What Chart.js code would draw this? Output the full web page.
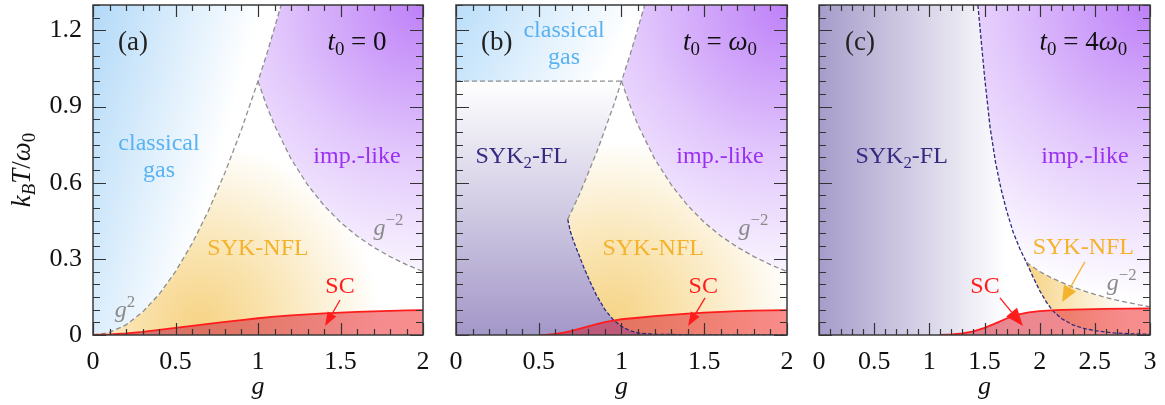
<!DOCTYPE html>
<html><head><meta charset="utf-8">
<script src="https://cdn.jsdelivr.net/npm/chart.js@4.4.1/dist/chart.umd.min.js"></script>
<style>
html,body{margin:0;padding:0;background:#fff;}
#wrap{position:relative;width:1165px;height:405px;overflow:hidden;background:#fff;}
canvas{position:absolute;top:0;}
</style></head><body>
<div id="wrap">
<canvas id="ca" width="440" height="405" style="left:0px"></canvas>
<canvas id="cb" width="360" height="405" style="left:440px"></canvas>
<canvas id="cc" width="365" height="405" style="left:800px"></canvas>
</div>
<script>
// ---------- tick labels ----------
const yMajor = [0, 0.3, 0.6, 0.9, 1.2];
const yLabels = ['0', '0.3', '0.6', '0.9', '1.2'];
const xMajorAB = [0, 0.5, 1, 1.5, 2];
const xLabelsAB = ['0', '0.5', '1', '1.5', '2'];
const xMajorC = [0, 0.5, 1, 1.5, 2, 2.5, 3];
const xLabelsC = ['0', '0.5', '1', '1.5', '2', '2.5', '3'];

// ---------- (a) t0 = 0 : boundaries [g, kT/w0] ----------
const a_g2 = [[0,0],[0.1,0.01],[0.2,0.04],[0.3,0.09],[0.4,0.16],[0.5,0.25],[0.6,0.36],[0.7,0.49],[0.8,0.64],[0.9,0.81],[1,1],[1.05,1.1],[1.1,1.21],[1.14,1.3]];
const a_gm2 = [[1,1],[1.05,0.907],[1.1,0.826],[1.2,0.694],[1.3,0.592],[1.4,0.51],[1.5,0.444],[1.6,0.39],[1.7,0.346],[1.8,0.309],[1.9,0.277],[2,0.25]];
const a_sc = [[0,0],[0.1,0.002],[0.2,0.006],[0.3,0.012],[0.4,0.02],[0.5,0.028],[0.6,0.036],[0.7,0.044],[0.8,0.052],[0.9,0.059],[1,0.066],[1.1,0.072],[1.2,0.077],[1.3,0.081],[1.4,0.085],[1.5,0.088],[1.6,0.091],[1.7,0.093],[1.8,0.095],[1.9,0.097],[2,0.098]];

// ---------- (b) t0 = w0 ----------
const b_top = [[0,1],[1,1]];
const b_g2 = [[0.675,0.456],[0.7,0.49],[0.75,0.56],[0.8,0.64],[0.85,0.72],[0.9,0.81],[0.95,0.9],[1,1],[1.05,1.1],[1.1,1.21],[1.14,1.3]];
const b_gm2 = [[1,1],[1.05,0.907],[1.1,0.826],[1.2,0.694],[1.3,0.592],[1.4,0.51],[1.5,0.444],[1.6,0.39],[1.7,0.346],[1.8,0.309],[1.9,0.277],[2,0.25]];
const b_fl = [[0.675,0.456],[0.69,0.41],[0.71,0.37],[0.74,0.32],[0.77,0.27],[0.81,0.21],[0.85,0.155],[0.9,0.1],[0.95,0.06],[1,0.034],[1.05,0.017],[1.1,0.008],[1.2,0.003],[1.4,0.001],[1.7,0],[2,0]];
const b_sc = [[0.5,0],[0.55,0.001],[0.6,0.004],[0.65,0.009],[0.7,0.016],[0.75,0.025],[0.8,0.034],[0.85,0.043],[0.9,0.051],[0.95,0.057],[1,0.062],[1.1,0.068],[1.2,0.074],[1.3,0.079],[1.4,0.084],[1.5,0.088],[1.6,0.091],[1.7,0.094],[1.8,0.096],[1.9,0.097],[2,0.098]];

// ---------- (c) t0 = 4 w0 ----------
const c_fl = [[1.44,1.3],[1.47,1.16],[1.5,1.02],[1.55,0.82],[1.6,0.68],[1.65,0.575],[1.7,0.49],[1.76,0.405],[1.82,0.34],[1.88,0.286],[1.94,0.228],[2,0.175],[2.06,0.13],[2.12,0.095],[2.2,0.064],[2.3,0.04],[2.4,0.026],[2.5,0.017],[2.65,0.009],[2.8,0.005],[3,0.003]];
const c_gm2 = [[1.88,0.286],[2,0.25],[2.1,0.227],[2.2,0.207],[2.3,0.189],[2.4,0.174],[2.5,0.16],[2.6,0.148],[2.7,0.137],[2.8,0.128],[2.9,0.119],[3,0.111]];
const c_sc = [[1.1,0],[1.2,0.002],[1.3,0.006],[1.4,0.014],[1.5,0.028],[1.6,0.046],[1.7,0.065],[1.8,0.08],[1.9,0.089],[2,0.094],[2.1,0.097],[2.2,0.099],[2.4,0.101],[2.6,0.103],[2.8,0.104],[3,0.105]];

// ---------- helpers ----------
const FONT = 'Liberation Serif';
const P = arr => arr.map(([g, T]) => ({x: g, y: T}));
const rev = arr => arr.slice().reverse();
const upTo = (arr, g) => arr.filter(p => p[0] <= g + 1e-9);
const from = (arr, g) => arr.filter(p => p[0] >= g - 1e-9);

function paint(chart, p) {
  const {ctx, chartArea, scales} = chart;
  if (!chartArea || !scales.x) return 'rgba(0,0,0,0)';
  const X = v => scales.x.getPixelForValue(v), Y = v => scales.y.getPixelForValue(v);
  let gr;
  if (p.type === 'radial') {
    const cx = X(p.at[0]), cy = Y(p.at[1]);
    gr = ctx.createRadialGradient(cx, cy, 0, cx, cy, p.r * chartArea.width);
  } else {
    gr = ctx.createLinearGradient(X(p.from[0]), Y(p.from[1]), X(p.to[0]), Y(p.to[1]));
  }
  p.stops.forEach(([o, c]) => gr.addColorStop(o, c));
  return gr;
}
function region(pts, spec) {
  return {data: P(pts), fill: 'shape', borderWidth: 0, borderColor: 'rgba(0,0,0,0)', pointRadius: 0,
    backgroundColor: c => paint(c.chart, spec), order: 10};
}
function dashed(pts, color, dash) {
  return {data: P(pts), fill: false, borderColor: color, borderWidth: 1.3, borderDash: dash, pointRadius: 0, order: 3};
}
function scFill(pts, spec) {
  return {data: P(pts), fill: 'origin', borderWidth: 0, borderColor: 'rgba(0,0,0,0)', pointRadius: 0,
    backgroundColor: c => paint(c.chart, spec), order: 5};
}
function scLine(pts) {
  return {data: P(pts), fill: false, borderColor: '#ff1c1c', borderWidth: 1.8, pointRadius: 0, order: 1};
}

function parseRich(str) {
  const out = [];
  const re = /_\{([^}]*)\}|\^\{([^}]*)\}|\*([^*]+)\*|([^*_^]+)/g;
  let m;
  const inner = (s) => { const mm = /^\*(.*)\*$/.exec(s); return mm ? {t: mm[1], it: true} : {t: s, it: false}; };
  while ((m = re.exec(str))) {
    if (m[1] !== undefined) out.push(Object.assign(inner(m[1]), {sub: true}));
    else if (m[2] !== undefined) out.push(Object.assign(inner(m[2]), {sup: true}));
    else if (m[3] !== undefined) out.push({t: m[3], it: true});
    else out.push({t: m[4], it: false});
  }
  return out;
}
function rich(ctx, str, cx, by, size, color) {
  const runs = parseRich(str).map(r => {
    const s = (r.sub || r.sup) ? size * 0.7 : size;
    const font = (r.it ? 'italic ' : '') + s + 'px "' + FONT + '"';
    ctx.font = font;
    return Object.assign(r, {font, w: ctx.measureText(r.t).width, dy: r.sub ? size * 0.2 : (r.sup ? -size * 0.42 : 0)});
  });
  const W = runs.reduce((a, r) => a + r.w, 0);
  let x = cx - W / 2;
  ctx.fillStyle = color; ctx.textAlign = 'left'; ctx.textBaseline = 'alphabetic';
  for (const r of runs) { ctx.font = r.font; ctx.fillText(r.t, x, by + r.dy); x += r.w; }
}
function arrow(ctx, x0, y0, x1, y1, color, hl, hw) {
  const a = Math.atan2(y1 - y0, x1 - x0);
  const bx = x1 - hl * Math.cos(a), by = y1 - hl * Math.sin(a);
  ctx.strokeStyle = color; ctx.fillStyle = color; ctx.lineWidth = 1.3;
  ctx.beginPath(); ctx.moveTo(x0, y0); ctx.lineTo(bx, by); ctx.stroke();
  ctx.beginPath(); ctx.moveTo(x1, y1);
  ctx.lineTo(bx + hw * Math.sin(a), by - hw * Math.cos(a));
  ctx.lineTo(bx - hw * Math.sin(a), by + hw * Math.cos(a));
  ctx.closePath(); ctx.fill();
}

function decor(cfg) {
  return {
    id: 'decor',
    afterDatasetsDraw(chart) {
      const {ctx, chartArea: a, scales: {x, y}} = chart;
      const X = v => x.getPixelForValue(v), Y = v => y.getPixelForValue(v);
      ctx.save();
      for (const ar of cfg.arrows) arrow(ctx, X(ar.from[0]), Y(ar.from[1]), X(ar.to[0]), Y(ar.to[1]), ar.color, ar.hl, ar.hw);
      for (const t of cfg.texts) rich(ctx, t.s, X(t.at[0]), Y(t.at[1]), t.size, t.color);
      // inward ticks on all four sides
      ctx.strokeStyle = '#333'; ctx.lineWidth = 1.2; ctx.beginPath();
      const isMaj = (list, v) => list.some(m => Math.abs(m - v) < 1e-6);
      for (let v = x.min; v <= x.max + 1e-9; v += 0.1) {
        const px = Math.round(X(v)) + 0.5, L = isMaj(cfg.xMajor, v) ? 12 : 6;
        ctx.moveTo(px, a.bottom); ctx.lineTo(px, a.bottom - L);
        ctx.moveTo(px, a.top); ctx.lineTo(px, a.top + L);
      }
      for (let v = 0; v <= y.max + 1e-9; v += 0.05) {
        const py = Math.round(Y(v)) + 0.5, L = isMaj(yMajor, v) ? 13 : 7;
        ctx.moveTo(a.left, py); ctx.lineTo(a.left + L, py);
        ctx.moveTo(a.right, py); ctx.lineTo(a.right - L, py);
      }
      ctx.stroke();
      ctx.lineWidth = 1.5; ctx.strokeStyle = '#3a3a3a';
      ctx.strokeRect(a.left, a.top, a.width, a.height);
      if (cfg.ytitle) {
        ctx.translate(cfg.ytitle.x, (a.top + a.bottom) / 2);
        ctx.rotate(-Math.PI / 2);
        rich(ctx, cfg.ytitle.s, 0, 0, cfg.ytitle.size, '#111');
      }
      ctx.restore();
    }
  };
}

function makeChart(id, o) {
  const tickFont = {family: FONT, size: 26};
  return new Chart(document.getElementById(id), {
    type: 'line',
    data: {datasets: o.datasets},
    options: {
      responsive: false, animation: false, devicePixelRatio: 1,
      layout: {padding: {left: 0, top: 5, right: o.padRight, bottom: 0}},
      plugins: {legend: {display: false}, tooltip: {enabled: false}},
      scales: {
        x: {type: 'linear', min: 0, max: o.xMax,
          afterBuildTicks: s => { s.ticks = o.xMajor.map(v => ({value: v})); },
          ticks: {callback: (v, i) => o.xLabels[i], font: tickFont, color: '#111', padding: 12, maxRotation: 0, autoSkip: false},
          grid: {display: false, drawTicks: false}, border: {display: false},
          title: {display: true, text: 'g', color: '#111', font: {family: FONT, size: 26, style: 'italic', lineHeight: 1.2}, padding: {top: 0, bottom: 2}},
          afterFit: s => { s.height = 70; s.paddingLeft = 0; s.paddingRight = 0; }
        },
        y: {type: 'linear', min: 0, max: 1.3,
          afterBuildTicks: s => { s.ticks = yMajor.map(v => ({value: v})); },
          ticks: {display: o.yLabels, callback: (v, i) => yLabels[i], font: tickFont, color: '#111', padding: 11, autoSkip: false},
          grid: {display: false, drawTicks: false}, border: {display: false},
          afterFit: s => { s.width = o.yWidth; s.paddingTop = 0; s.paddingBottom = 0; }
        }
      }
    },
    plugins: [decor(o.decor)]
  });
}

// ---------- styles ----------
const BLUE0 = 'rgb(178,217,248)', PURP0 = 'rgb(190,128,248)', PURP1 = 'rgb(226,200,252)';
const YEL0 = 'rgb(247,212,135)', YEL1 = 'rgb(249,226,172)', FL0 = 'rgb(163,151,200)';
const impSpec = (gx) => ({type: 'radial', at: [gx, 1.3], r: 1.02, stops: [[0, PURP0], [0.45, PURP1], [0.88, '#ffffff']]});
const nflSpec = (g, T) => ({type: 'radial', at: [g, T], r: 0.62, stops: [[0, YEL0], [0.32, YEL1], [0.88, '#ffffff']]});
const scSpec = (gmax) => ({type: 'linear', from: [0, 0], to: [gmax, 0], stops: [[0, 'rgba(180,40,80,0.6)'], [1, 'rgba(245,45,45,0.54)']]});
const DASH_G = '#8e8e8e', DASH_B = '#2e2a7c';
const C_GAS = '#5ab2f2', C_IMP = '#9a30f2', C_NFL = '#f4b32c', C_SC = '#ff1c1c', C_FL = '#362a80', C_G = '#8a8a8a';

// ---------- (a) ----------
makeChart('ca', {
  xMax: 2, xMajor: xMajorAB, xLabels: xLabelsAB, yLabels: true, yWidth: 93, padRight: 17,
  datasets: [
    region([...a_g2, [0, 1.3]], {type: 'linear', from: [0, 1.3], to: [1.33, 1.064], stops: [[0, BLUE0], [0.72, '#ffffff']]}),
    region([...upTo(a_g2, 1), ...a_gm2, [2, 0]], nflSpec(0.65, 0.05)),
    region([...from(a_g2, 1), [2, 1.3], ...rev(a_gm2)], impSpec(2)),
    scFill(a_sc, scSpec(2)),
    dashed(a_g2, DASH_G, [5, 3]),
    dashed(a_gm2, DASH_G, [5, 3]),
    scLine(a_sc)
  ],
  decor: {
    xMajor: xMajorAB,
    ytitle: {s: '*k*_{*B*}*T*/*ω*_{0}', x: 30, size: 27},
    texts: [
      {s: '(a)', at: [0.242, 1.123], size: 27, color: '#222'},
      {s: '*t*_{0} = 0', at: [1.6, 1.123], size: 27, color: '#111'},
      {s: 'classical', at: [0.4, 0.729], size: 24, color: C_GAS},
      {s: 'gas', at: [0.4, 0.623], size: 24, color: C_GAS},
      {s: 'imp.-like', at: [1.6, 0.678], size: 24, color: C_IMP},
      {s: 'SYK-NFL', at: [1.0, 0.315], size: 24, color: C_NFL},
      {s: 'SC', at: [1.497, 0.165], size: 24, color: C_SC},
      {s: '*g*^{−2}', at: [1.79, 0.394], size: 24, color: C_G},
      {s: '*g*^{2}', at: [0.194, 0.071], size: 24, color: C_G}
    ],
    arrows: [{from: [1.497, 0.138], to: [1.406, 0.035], color: C_SC, hl: 14, hw: 5}]
  }
});

// ---------- (b) ----------
makeChart('cb', {
  xMax: 2, xMajor: xMajorAB, xLabels: xLabelsAB, yLabels: false, yWidth: 16, padRight: 13,
  datasets: [
    region([[0, 1.3], ...b_top, ...from(b_g2, 1)], {type: 'linear', from: [0, 1.3], to: [1.03, 0.945], stops: [[0, 'rgb(186,222,250)'], [0.85, '#ffffff']]}),
    region([[0, 1], [0, 0], ...rev(b_fl), ...upTo(b_g2, 1)], {type: 'linear', from: [0, 0], to: [0, 1], stops: [[0, FL0], [1, '#ffffff']]}),
    region([...upTo(b_g2, 1), ...b_gm2, ...rev(b_fl)], nflSpec(0.95, 0.06)),
    region([...from(b_g2, 1), [2, 1.3], ...rev(b_gm2)], impSpec(2)),
    scFill(b_sc, scSpec(2)),
    dashed(b_top, DASH_G, [5, 3]),
    dashed(b_g2, DASH_G, [5, 3]),
    dashed(b_gm2, DASH_G, [5, 3]),
    dashed(b_fl, DASH_B, [4, 2]),
    scLine(b_sc)
  ],
  decor: {
    xMajor: xMajorAB,
    texts: [
      {s: '(b)', at: [0.246, 1.123], size: 27, color: '#222'},
      {s: 'classical', at: [0.653, 1.174], size: 24, color: C_GAS},
      {s: 'gas', at: [0.653, 1.068], size: 24, color: C_GAS},
      {s: '*t*_{0} = *ω*_{0}', at: [1.595, 1.123], size: 27, color: '#111'},
      {s: 'SYK_{2}-FL', at: [0.397, 0.678], size: 24, color: C_FL},
      {s: 'imp.-like', at: [1.595, 0.678], size: 24, color: C_IMP},
      {s: 'SYK-NFL', at: [1.192, 0.315], size: 24, color: C_NFL},
      {s: 'SC', at: [1.494, 0.165], size: 24, color: C_SC},
      {s: '*g*^{−2}', at: [1.797, 0.394], size: 24, color: C_G}
    ],
    arrows: [{from: [1.505, 0.146], to: [1.402, 0.035], color: C_SC, hl: 14, hw: 5}]
  }
});

// ---------- (c) ----------
makeChart('cc', {
  xMax: 3, xMajor: xMajorC, xLabels: xLabelsC, yLabels: false, yWidth: 19, padRight: 15,
  datasets: [
    region([[0, 0], [0, 1.3], ...c_fl, [3, 0]], {type: 'linear', from: [0, 0], to: [1.7, 0], stops: [[0, 'rgb(166,156,202)'], [1, '#ffffff']]}),
    region([...upTo(c_fl, 1.88), ...c_gm2, [3, 1.3]], impSpec(3)),
    region([...c_gm2, ...rev(from(c_fl, 1.88))], {type: 'linear', from: [1.9, 0], to: [2.8, 0], stops: [[0, YEL0], [1, '#ffffff']]}),
    scFill(c_sc, scSpec(3)),
    dashed(c_gm2, DASH_G, [5, 3]),
    dashed(c_fl, DASH_B, [4, 2]),
    scLine(c_sc)
  ],
  decor: {
    xMajor: xMajorC,
    texts: [
      {s: '(c)', at: [0.372, 1.123], size: 27, color: '#222'},
      {s: '*t*_{0} = 4*ω*_{0}', at: [2.396, 1.123], size: 27, color: '#111'},
      {s: 'SYK_{2}-FL', at: [0.749, 0.678], size: 24, color: C_FL},
      {s: 'imp.-like', at: [2.41, 0.678], size: 24, color: C_IMP},
      {s: 'SYK-NFL', at: [2.396, 0.319], size: 24, color: C_NFL},
      {s: '*g*^{−2}', at: [2.744, 0.177], size: 24, color: C_G},
      {s: 'SC', at: [1.505, 0.165], size: 24, color: C_SC}
    ],
    arrows: [
      {from: [1.64, 0.146], to: [1.849, 0.035], color: C_SC, hl: 18, hw: 7},
      {from: [2.41, 0.288], to: [2.203, 0.13], color: C_NFL, hl: 16, hw: 7}
    ]
  }
});
</script>
</body></html>
